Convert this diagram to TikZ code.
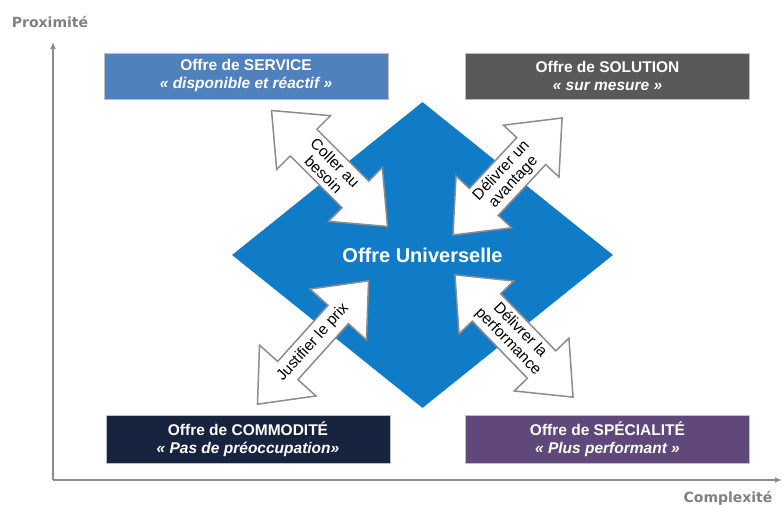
\documentclass[tikz,border=0pt]{standalone}
\usepackage{fontspec}
\setmainfont{Liberation Sans}
\newfontfamily\axisfont{DejaVu Sans}
\usetikzlibrary{shapes.geometric,shapes.arrows,arrows.meta}

\definecolor{bleuservice}{RGB}{79,129,189}
\definecolor{grissolution}{RGB}{89,89,89}
\definecolor{marinecommod}{RGB}{23,36,64}
\definecolor{violetspec}{RGB}{96,73,122}
\definecolor{bleuuniv}{RGB}{16,124,200}
\definecolor{gristrait}{RGB}{140,140,140}

\begin{document}
\begin{tikzpicture}[x=1pt, y=1pt,
    offre/.style={draw=gray!50, line width=0.8pt, minimum width=284pt, minimum height=46pt, inner sep=0pt, align=center, text=white, font=\fontsize{15.5}{18}\selectfont\bfseries},
    fleche/.style={double arrow, draw=gristrait, line width=1.5pt, fill=white, double arrow tip angle=80, double arrow head extend=16pt, minimum width=76pt, inner sep=1pt, align=center, font=\fontsize{15.5}{16.5}\selectfont},
    axe/.style={draw=gristrait, line width=1.5pt, -{Latex[length=7pt,width=6pt]}},
    titreaxe/.style={text=gray, font=\axisfont\fontsize{14}{16}\selectfont\bfseries}]
  \useasboundingbox (0,0) rectangle (783,505);

  % Axes
  \coordinate (origine) at (53,25);
  \coordinate (haut) at (53,463);
  \coordinate (droite) at (782,25);
  \draw[axe] (origine) -- (haut);
  \draw[axe] (origine) -- (droite);
  \node[titreaxe] (prox) at (50,483) {Proximité};
  \node[titreaxe] (compl) at (728,7) {Complexité};

  % Offre centrale
  \node[diamond, fill=bleuuniv, minimum width=381pt, minimum height=306pt, inner sep=0pt, text=white, font=\fontsize{20}{22}\selectfont\bfseries] (univ) at (422.5,250) {Offre Universelle};

  % Les quatre offres
  \node[offre, fill=bleuservice] (service) at (246,429) {Offre de SERVICE\\\textit{«~disponible et réactif~»}};
  \node[offre, fill=grissolution] (solution) at (607.5,429) {Offre de SOLUTION\\\textit{«~sur mesure~»}};
  \node[offre, fill=marinecommod, minimum height=48pt] (commodite) at (248,66) {Offre de COMMODITÉ\\\textit{«~Pas de préoccupation»}};
  \node[offre, fill=violetspec, minimum height=48pt] (specialite) at (607.5,66) {Offre de SPÉCIALITÉ\\\textit{«~Plus performant~»}};

  % Fleches doubles
  \node[fleche, rotate=-45, minimum height=164pt] (besoin) at (329.5,336.5) {Coller au\\besoin};
  \node[fleche, rotate=47, minimum height=160pt] (avantage) at (507.5,328.5) {Délivrer un\\avantage};
  \node[fleche, rotate=48, minimum height=166pt] (prix) at (313,162.5) {Justifier le prix};
  \node[fleche, rotate=-46, minimum height=170pt] (perf) at (514,169) {Délivrer la\\performance};
\end{tikzpicture}
\end{document}
